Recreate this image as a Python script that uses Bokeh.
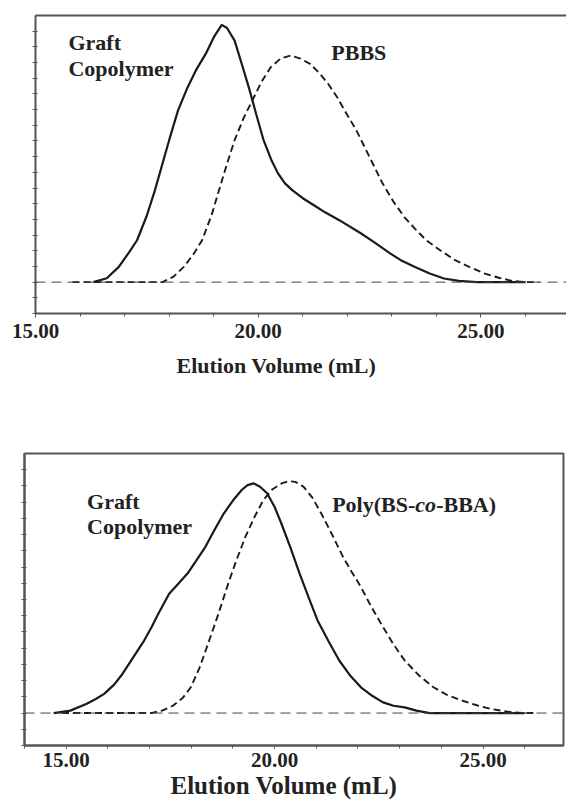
from bokeh.plotting import figure
from bokeh.models import FixedTicker, LinearAxis, Span, Label, Range1d, Title
from bokeh.embed import file_html
from bokeh.resources import INLINE

# ---------------- data ----------------
x_major = [15, 20, 25]
x_tick_labels = ["15.00", "20.00", "25.00"]
x_minor_top = [15, 16, 17, 18, 19, 20, 21, 22, 23, 24, 25, 26]
x_minor_bot = [14, 15, 16, 17, 18, 19, 20, 21, 22, 23, 24, 25, 26]
y_ticks_top = list(range(-2, 17))
y_ticks_bot = list(range(-2, 16))

# top panel: graft copolymer (solid) and PBBS (dashed)
graft_top_x = [16.3, 16.6, 16.87, 17.1, 17.28, 17.5, 17.68, 18.0, 18.2, 18.41, 18.6, 18.82, 19.0, 19.18,
               19.3, 19.47, 19.62, 19.79, 19.95, 20.12, 20.3, 20.44, 20.6, 20.77, 21.0, 21.25, 21.5, 21.82,
               22.31, 22.6, 22.96, 23.2, 23.52, 23.85, 24.17, 24.5, 24.9, 26.0]
graft_top_y = [0, 0.25, 0.97, 1.9, 2.67, 4.25, 5.85, 9.05, 10.95, 12.4, 13.5, 14.55, 15.6, 16.4,
               16.2, 15.4, 14.0, 12.4, 10.75, 9.05, 7.75, 6.95, 6.3, 5.85, 5.35, 4.9, 4.45, 3.95,
               3.1, 2.55, 1.83, 1.4, 0.97, 0.55, 0.23, 0.08, 0, 0]
pbbs_x = [15.83, 17.85, 18.1, 18.33, 18.55, 18.74, 18.95, 19.14, 19.3, 19.47, 19.67, 19.87, 20.08, 20.28,
          20.5, 20.73, 20.95, 21.17, 21.38, 21.58, 21.78, 21.98, 22.19, 22.39, 22.59, 22.79, 23.03, 23.28,
          23.52, 23.77, 24.1, 24.42, 24.75, 25.07, 25.4, 25.7, 26.0, 26.3]
pbbs_y = [0, 0, 0.35, 0.97, 1.8, 2.67, 4.25, 6.05, 7.55, 9.05, 10.45, 11.6, 12.8, 13.7,
          14.25, 14.45, 14.25, 13.9, 13.3, 12.6, 11.75, 10.75, 9.75, 8.6, 7.45, 6.3, 5.15, 4.15,
          3.4, 2.67, 2.0, 1.4, 0.95, 0.56, 0.28, 0.08, 0, 0]

# bottom panel: graft copolymer (solid) and Poly(BS-co-BBA) (dashed)
graft_bot_x = [14.7, 15.1, 15.48, 15.7, 15.91, 16.15, 16.35, 16.6, 16.87, 17.05, 17.21, 17.47, 17.7, 17.91,
               18.12, 18.34, 18.56, 18.78, 19.0, 19.21, 19.35, 19.5, 19.65, 19.82, 20.0, 20.16, 20.38, 20.6,
               20.82, 21.03, 21.3, 21.55, 21.8, 22.07, 22.35, 22.6, 22.85, 23.12, 23.4, 23.72, 26.0]
graft_bot_y = [0, 0.15, 0.56, 0.85, 1.18, 1.75, 2.41, 3.4, 4.47, 5.3, 6.12, 7.36, 8.0, 8.6,
               9.4, 10.25, 11.3, 12.3, 13.1, 13.75, 14.05, 14.16, 13.95, 13.55, 12.7, 11.7, 10.2, 8.6,
               7.1, 5.71, 4.4, 3.24, 2.35, 1.59, 1.05, 0.66, 0.45, 0.35, 0.15, 0, 0]
poly_x = [14.9, 17.04, 17.3, 17.56, 17.8, 17.99, 18.2, 18.43, 18.65, 18.86, 19.08, 19.3, 19.52, 19.73,
          19.95, 20.17, 20.34, 20.5, 20.69, 20.9, 21.12, 21.38, 21.64, 21.85, 22.07, 22.33, 22.6, 22.86,
          23.12, 23.45, 23.81, 24.15, 24.51, 24.85, 25.2, 25.6, 25.98, 26.3]
poly_y = [0, 0, 0.15, 0.45, 0.95, 1.59, 2.8, 4.47, 6.1, 7.77, 9.4, 10.87, 12.1, 13.13,
          13.8, 14.16, 14.3, 14.25, 13.96, 13.3, 12.3, 11.0, 9.63, 8.7, 7.77, 6.5, 5.3, 4.2,
          3.24, 2.35, 1.59, 1.1, 0.76, 0.48, 0.25, 0.08, 0, 0]

FONT = "Liberation Serif"
AXIS_COL = "#555555"
INK = "#1a1a1a"
TXT = "#222222"


def style_axes(p, x_minor, y_ticks, label_size, label_standoff, tick_out):
    p.grid.visible = False
    xa = p.xaxis[0]
    xa.ticker = FixedTicker(ticks=x_major, minor_ticks=x_minor)
    xa.major_label_overrides = {v: t for v, t in zip(x_major, x_tick_labels)}
    xa.axis_line_color = AXIS_COL
    xa.axis_line_width = 2
    xa.major_tick_line_color = AXIS_COL
    xa.minor_tick_line_color = AXIS_COL
    xa.major_tick_in = 0
    xa.major_tick_out = tick_out
    xa.minor_tick_in = 0
    xa.minor_tick_out = 3
    xa.major_label_text_font = FONT
    xa.major_label_text_font_style = "bold"
    xa.major_label_text_font_size = label_size
    xa.major_label_text_color = TXT
    xa.major_label_standoff = label_standoff

    ya = p.yaxis[0]
    ya.ticker = FixedTicker(ticks=[], minor_ticks=y_ticks)
    ya.axis_line_color = AXIS_COL
    ya.axis_line_width = 2
    ya.minor_tick_line_color = AXIS_COL
    ya.minor_tick_in = 2
    ya.minor_tick_out = 3
    ya.major_tick_in = 0
    ya.major_tick_out = 0
    ya.major_label_standoff = 0
    ya.axis_label_standoff = 0


def add_text(p, x, y, text, size="22px", style="bold", x_offset=0):
    p.add_layout(Label(x=x, y=y, text=text, x_offset=x_offset, text_font=FONT,
                       text_font_style=style, text_font_size=size, text_color=TXT,
                       text_baseline="middle", text_align="left"))


# ---------------- top chart ----------------
p1 = figure(width=566, height=400, x_range=Range1d(15, 26.92), y_range=Range1d(-2, 17),
            output_backend="svg", toolbar_location=None,
            min_border_left=35, min_border_right=0, min_border_top=15, min_border_bottom=87)
p1.outline_line_color = None
style_axes(p1, x_minor_top, y_ticks_top, "21px", 6, 4)
top_border = LinearAxis(ticker=FixedTicker(ticks=[]), axis_line_color=AXIS_COL, axis_line_width=2,
                        major_tick_in=0, major_tick_out=0, minor_tick_in=0, minor_tick_out=0,
                        major_label_standoff=0, axis_label_standoff=0)
p1.add_layout(top_border, "above")
p1.add_layout(Span(location=0, dimension="width", line_color="#444444", line_width=1, line_dash="10 6"))
p1.line(graft_top_x, graft_top_y, line_color=INK, line_width=2.2)
p1.line(pbbs_x, pbbs_y, line_color=INK, line_width=1.9, line_dash="7 4")
add_text(p1, 15.74, 15.29, "Graft")
add_text(p1, 15.74, 13.63, "Copolymer")
add_text(p1, 21.64, 14.65, "PBBS")
p1.add_layout(Title(text="Elution Volume (mL)", align="left", offset=141, standoff=20,
                    text_font=FONT, text_font_style="bold", text_font_size="22px",
                    text_color=TXT), "below")

# ---------------- bottom chart ----------------
p2 = figure(width=566, height=403, x_range=Range1d(14, 26.93), y_range=Range1d(-2, 16),
            output_backend="svg", toolbar_location=None,
            min_border_left=24, min_border_right=3, min_border_top=53, min_border_bottom=58)
p2.outline_line_color = AXIS_COL
p2.outline_line_width = 2
style_axes(p2, x_minor_bot, y_ticks_bot, "21px", 4, 3)
p2.add_layout(Span(location=0, dimension="width", line_color="#444444", line_width=1, line_dash="10 6"))
p2.line(graft_bot_x, graft_bot_y, line_color=INK, line_width=2.2)
p2.line(poly_x, poly_y, line_color=INK, line_width=1.9, line_dash="7 4")
add_text(p2, 15.5, 13.07, "Graft")
add_text(p2, 15.5, 11.52, "Copolymer")
add_text(p2, 21.38, 12.86, "Poly(BS-")
add_text(p2, 21.38, 12.86, "co", style="bold italic", x_offset=83)
add_text(p2, 21.38, 12.86, "-BBA)", x_offset=104)
p2.add_layout(Title(text="Elution Volume (mL)", align="left", offset=146, standoff=0,
                    text_font=FONT, text_font_style="bold", text_font_size="25px",
                    text_color=TXT), "below")

open("out.html", "w").write(file_html([p1, p2], INLINE))
